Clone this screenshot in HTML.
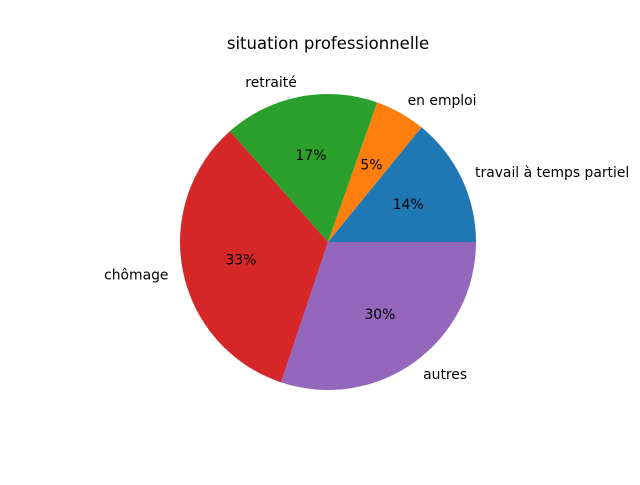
<!DOCTYPE html>
<html><head><meta charset="utf-8"><style>
body{margin:0;background:#fff;}
svg text{font-family:"DejaVu Sans","Liberation Sans",sans-serif;}
</style></head><body>
<svg width="640" height="480" xmlns="http://www.w3.org/2000/svg">
<rect width="640" height="480" fill="#fff"/>
<text x="328" y="49" text-anchor="middle" font-size="16.5">situation professionnelle</text>
<g id="slices"></g>
</svg>
<script>
const categories = ["travail à temps partiel","en emploi","retraité","chômage","autres"];
const values = [14.1, 5.49, 16.9, 33.3, 30.1];
const colors = ["#1f77b4","#ff7f0e","#2ca02c","#d62728","#9467bd"];
const cx=328, cy=242, R=148;
const g=document.getElementById('slices');
const NS="http://www.w3.org/2000/svg";
const total=values.reduce((a,b)=>a+b,0);
let a0=0;
values.forEach((v,i)=>{
  const span=v/total*2*Math.PI, a1=a0+span;
  const x0=cx+R*Math.cos(a0), y0=cy-R*Math.sin(a0);
  const x1=cx+R*Math.cos(a1), y1=cy-R*Math.sin(a1);
  const p=document.createElementNS(NS,'path');
  p.setAttribute('d',`M${cx},${cy} L${x0},${y0} A${R},${R} 0 ${span>Math.PI?1:0} 0 ${x1},${y1} Z`);
  p.setAttribute('fill',colors[i]);
  
  
  g.appendChild(p);
  const m=(a0+a1)/2, c=Math.cos(m), s=Math.sin(m);
  const t=document.createElementNS(NS,'text');
  t.setAttribute('x',cx+1.1*R*c);
  t.setAttribute('y',cy-1.1*R*s+5);
  t.setAttribute('font-size','13.9');
  t.setAttribute('text-anchor',c>=0?'start':'end');
  t.textContent=categories[i];
  
  
  g.appendChild(t);
  const pt=document.createElementNS(NS,'text');
  pt.setAttribute('x',cx+0.6*R*c);
  pt.setAttribute('y',cy-0.6*R*s+5);
  pt.setAttribute('font-size','13.9');
  pt.setAttribute('text-anchor','middle');
  pt.textContent=(v/total*100).toFixed(0)+'%';
  
  
  g.appendChild(pt);
  a0=a1;
});
</script>
</body></html>
